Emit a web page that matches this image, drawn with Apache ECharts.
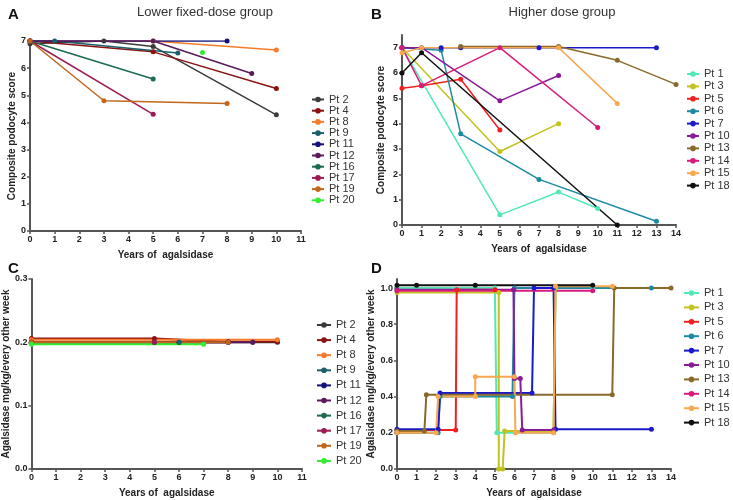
<!DOCTYPE html>
<html>
<head>
<meta charset="utf-8">
<script src="https://cdn.jsdelivr.net/npm/echarts@6/dist/echarts.min.js"></script>
<style>
  html, body { margin: 0; padding: 0; background: #fff; }
  #chart { width: 733px; height: 500px; }
</style>
</head>
<body>
<div id="chart"></div>
<script>
// Panel A / C patients (lower fixed-dose group)
const lowNames = ["Pt 2", "Pt 4", "Pt 8", "Pt 9", "Pt 11", "Pt 12", "Pt 16", "Pt 17", "Pt 19", "Pt 20"];
const lowColors = ["#3a3a3a", "#8b1212", "#f57c2a", "#1b5f6b", "#12127a", "#5c1a5c", "#1c6b4c", "#9c1a52", "#c2661c", "#33ee33"];
const lowScores = [
  [[0, 6.9], [3, 7], [5, 6.8], [10, 4.28]],
  [[0, 7], [5, 6.6], [10, 5.25]],
  [[0, 7], [5, 7], [10, 6.67]],
  [[0, 7], [1, 7], [6, 6.56]],
  [[0, 7], [8, 7]],
  [[0, 7], [5, 7], [9, 5.8]],
  [[0, 7], [5, 5.6]],
  [[0, 7], [5, 4.3]],
  [[0, 7], [3, 4.8], [8, 4.7]],
  [[7, 6.58]]
];
const lowDoses = [
  [[0, 0.2], [5, 0.2], [6, 0.2], [8, 0.2], [9, 0.2], [10, 0.2]],
  [[0, 0.206], [5, 0.206], [8, 0.201], [10, 0.201]],
  [[0, 0.204], [10, 0.204]],
  [[0, 0.2], [6, 0.2]],
  [[0, 0.2], [8, 0.2]],
  [[0, 0.2], [9, 0.2]],
  [[0, 0.2], [5, 0.2]],
  [[0, 0.2], [5, 0.2]],
  [[0, 0.2], [8, 0.2]],
  [[0, 0.197], [7, 0.197]]
];

// Panel B / D patients (higher dose group)
const highNames = ["Pt 1", "Pt 3", "Pt 5", "Pt 6", "Pt 7", "Pt 10", "Pt 13", "Pt 14", "Pt 15", "Pt 18"];
const highColors = ["#50e8b8", "#c2c21e", "#f02020", "#1b8aa2", "#1a1ac8", "#8a1a9a", "#8a6a2a", "#d81a7a", "#f8a850", "#101010"];
const highScores = [
  [[0, 7], [5, 0.4], [8, 1.3], [10, 0.65]],
  [[0, 7], [5, 2.9], [8, 4]],
  [[0, 5.4], [1, 5.5], [3, 5.75], [5, 3.75]],
  [[0, 7], [2, 6.9], [3, 3.6], [7, 1.8], [13, 0.15]],
  [[0, 7], [2, 7], [3, 7], [7, 7], [13, 7]],
  [[0, 7], [1, 7], [5, 4.9], [8, 5.9]],
  [[3, 7.05], [8, 7.05], [11, 6.5], [14, 5.55]],
  [[0, 7], [1, 5.5], [5, 7], [10, 3.85]],
  [[0, 6.8], [1, 7], [8, 7], [11, 4.8]],
  [[0, 6], [1, 6.8], [11, 0]]
];
const highDoses = [
  [[0, 1.0], [5, 1.0], [5.1, 0.2], [8, 0.2], [8.1, 1.0], [10, 1.0]],
  [[0, 0.975], [5.2, 0.975], [5.2, 0], [5.4, 0], [5.5, 0.21], [8, 0.21], [8.1, 1.0]],
  [[0, 0.215], [3, 0.215], [3.05, 0.99], [5, 0.99]],
  [[0, 0.2], [2.1, 0.2], [2.2, 0.4], [5.9, 0.4], [6, 1.0], [13, 1.0]],
  [[0, 0.22], [2.1, 0.22], [2.2, 0.42], [6.9, 0.42], [7, 1.0], [8, 1.0], [8.1, 0.22], [13, 0.22]],
  [[0, 0.99], [5.95, 0.99], [6, 0.5], [6.3, 0.5], [6.4, 0.215], [8, 0.215]],
  [[0, 0.21], [1.4, 0.21], [1.5, 0.41], [11, 0.41], [11.1, 1.0], [14, 1.0]],
  [[0, 0.985], [10, 0.985]],
  [[0, 0.2], [2, 0.2], [2.1, 0.4], [4, 0.4], [4, 0.51], [6, 0.51], [6.05, 0.2], [8, 0.2], [8.1, 1.01], [11, 1.01]],
  [[0, 1.015], [1, 1.015], [4, 1.015], [10, 1.015]]
];

const chart = echarts.init(document.getElementById("chart"));
const font = "Liberation Sans, Arial, sans-serif";

function xAxis(gridIndex, max) {
  return {
    gridIndex, type: "value", min: 0, max, interval: 1,
    name: "Years of  agalsidase", nameLocation: "middle", nameGap: 19,
    nameTextStyle: { fontFamily: font, fontWeight: "bold", fontSize: 10, color: "#222" },
    axisLine: { lineStyle: { color: "#555", width: 2 } },
    axisTick: { show: true, length: 3, lineStyle: { color: "#555", width: 1.5 } },
    axisLabel: { fontFamily: font, fontWeight: "bold", fontSize: 9, color: "#222", margin: 4 },
    splitLine: { show: false }
  };
}

function yAxis(gridIndex, name, max, interval, gap, decimals, hideMax) {
  return {
    gridIndex, type: "value", min: 0, max, interval,
    name, nameLocation: "middle", nameGap: gap,
    nameTextStyle: { fontFamily: font, fontWeight: "bold", fontSize: 10, color: "#222" },
    axisLine: { show: true, lineStyle: { color: "#555", width: 2 } },
    axisTick: { show: true, length: 3, lineStyle: { color: "#555", width: 1.5 } },
    axisLabel: {
      fontFamily: font, fontWeight: "bold", fontSize: 9, color: "#222", margin: 4,
      showMaxLabel: !hideMax,
      formatter: v => decimals ? v.toFixed(decimals) : String(v)
    },
    splitLine: { show: false }
  };
}

function legend(names, left, top, gap, iconW) {
  return {
    data: names, orient: "vertical", left, top, itemGap: gap, padding: 0,
    itemWidth: iconW, itemHeight: 7,
    textStyle: { fontFamily: font, fontSize: 11, color: "#333", lineHeight: 9 }
  };
}

const series = [];
function addSeries(names, colors, values, idx, width) {
  names.forEach((n, i) => {
    series.push({
      name: n, type: "line", xAxisIndex: idx, yAxisIndex: idx,
      data: values[i], symbol: "circle", symbolSize: 5,
      lineStyle: { color: colors[i], width },
      itemStyle: { color: colors[i] },
      emphasis: { disabled: true }, animation: false
    });
  });
}
addSeries(lowNames, lowColors, lowScores, 0, 1.5);
addSeries(highNames, highColors, highScores, 1, 1.5);
addSeries(lowNames, lowColors, lowDoses, 2, 2);
addSeries(highNames, highColors, highDoses, 3, 2);

chart.setOption({
  animation: false,
  title: [
    { text: "A", left: 3, top: 2, textStyle: { fontFamily: font, fontWeight: "bold", fontSize: 15, color: "#111" } },
    { text: "B", left: 366, top: 2, textStyle: { fontFamily: font, fontWeight: "bold", fontSize: 15, color: "#111" } },
    { text: "C", left: 3, top: 256, textStyle: { fontFamily: font, fontWeight: "bold", fontSize: 15, color: "#111" } },
    { text: "D", left: 366, top: 256, textStyle: { fontFamily: font, fontWeight: "bold", fontSize: 15, color: "#111" } },
    { text: "Lower fixed-dose group", left: 200, top: 1, textAlign: "center", textStyle: { fontFamily: font, fontWeight: "normal", fontSize: 13, color: "#333" } },
    { text: "Higher dose group", left: 557, top: 1, textAlign: "center", textStyle: { fontFamily: font, fontWeight: "normal", fontSize: 13, color: "#333" } }
  ],
  grid: [
    { left: 30, top: 41, width: 271, height: 190 },
    { left: 402, top: 35, width: 274, height: 190 },
    { left: 31, top: 279, width: 271, height: 190 },
    { left: 397, top: 279, width: 274, height: 190 }
  ],
  xAxis: [xAxis(0, 11), xAxis(1, 14), xAxis(2, 11), xAxis(3, 14)],
  yAxis: [
    yAxis(0, "Composite podocyte score", 7, 1, 13, 0, false),
    yAxis(1, "Composite podocyte score", 7.5, 1, 16, 0, true),
    yAxis(2, "Agalsidase mg/kg/every other week", 0.3, 0.1, 20, 1, false),
    yAxis(3, "Agalsidase mg/kg/every other week", 1.05, 0.2, 21, 1, true)
  ],
  legend: [
    legend(lowNames, 311, 94, 0.2, 12),
    legend(highNames, 686, 68.5, 1.4, 12),
    legend(lowNames, 316, 319.5, 4.1, 14),
    legend(highNames, 683, 287.5, 3.4, 15)
  ],
  series
});
</script>
</body>
</html>
